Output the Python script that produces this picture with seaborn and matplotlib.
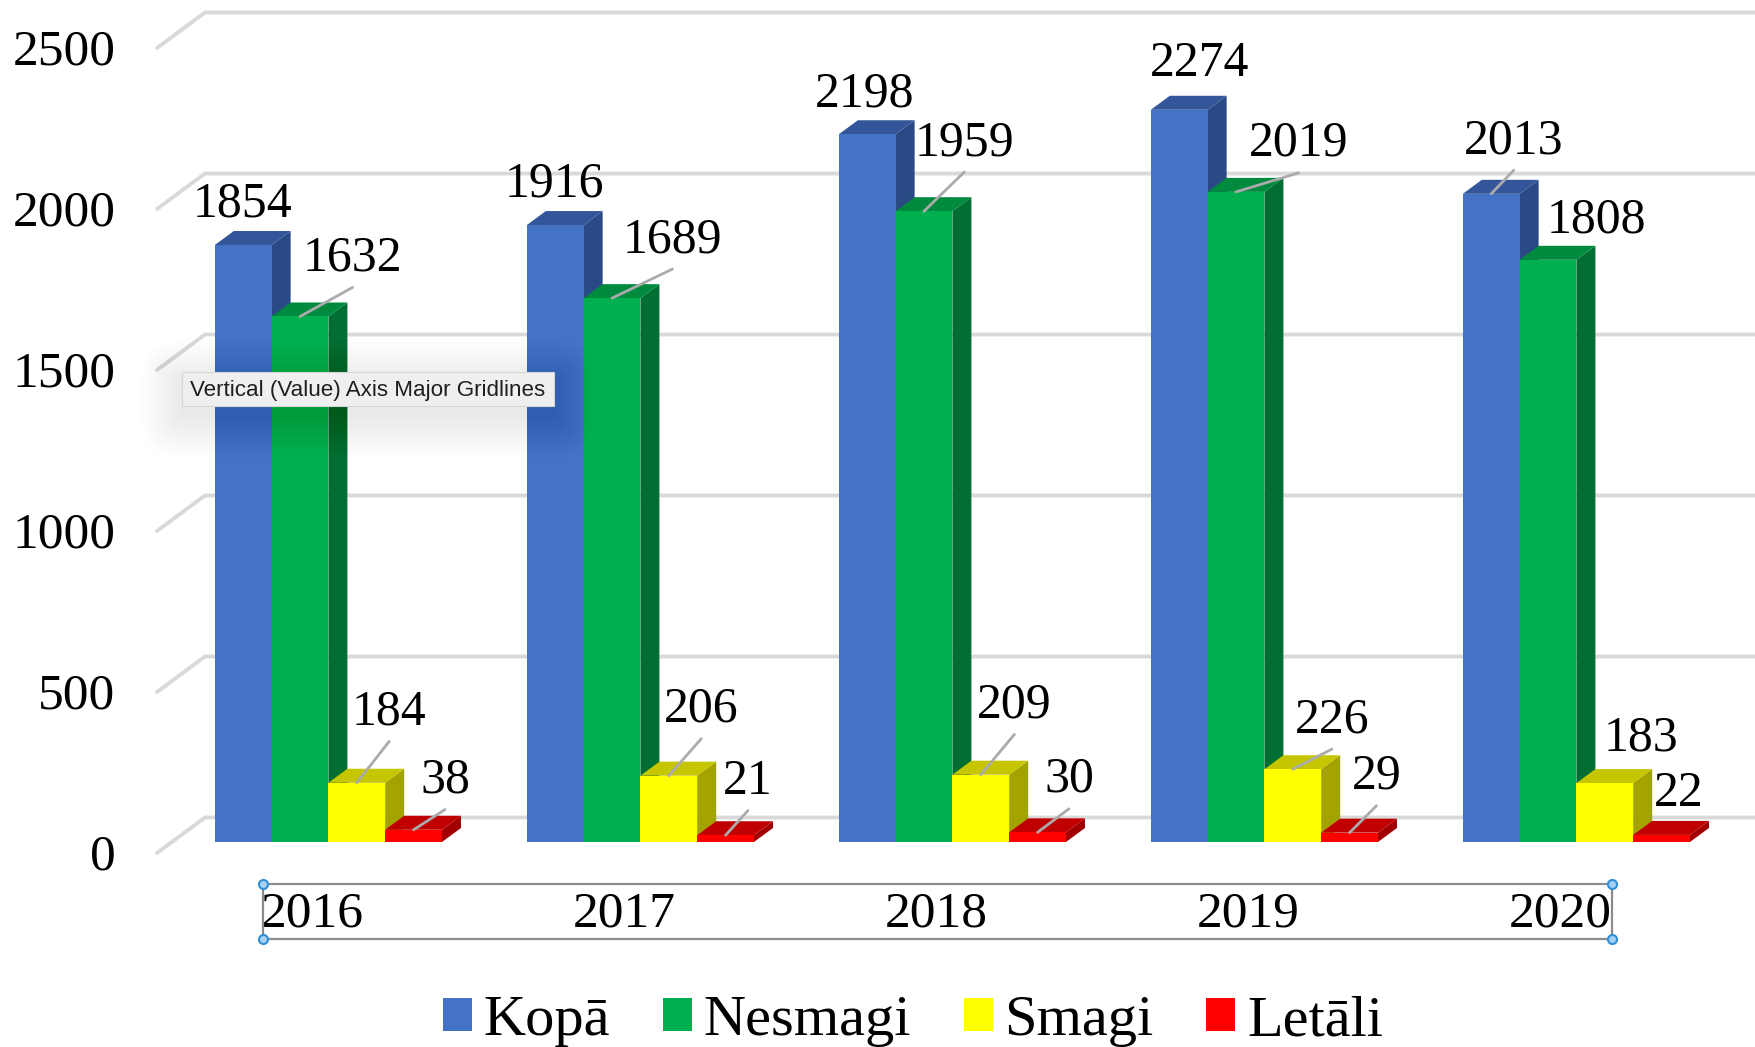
import pandas as pd
import numpy as np
import matplotlib.pyplot as plt
import seaborn as sns
from matplotlib.lines import Line2D
from matplotlib.patches import FancyBboxPatch, Polygon, Rectangle
from matplotlib.transforms import IdentityTransform, ScaledTranslation

years = ["2016", "2017", "2018", "2019", "2020"]
kopa = [1854, 1916, 2198, 2274, 2013]
nesmagi = [1632, 1689, 1959, 2019, 1808]
smagi = [184, 206, 209, 226, 183]
letali = [38, 21, 30, 29, 22]
series = ["Kopā", "Nesmagi", "Smagi", "Letāli"]
y_ticks = [0, 500, 1000, 1500, 2000, 2500]

W, H = 1756, 1047
BASE_Y = 842
STEP = 312.0
PX_PER_UNIT = 0.322
CENTER0 = 328.4
LEFT, RIGHT = 157, 1756

colors = ["#4472C4", "#00B050", "#FFFF00", "#FF0000"]
top_colors = ["#33569A", "#008A3E", "#C6C600", "#C00000"]
side_colors = ["#2A4A85", "#006F31", "#A3A300", "#A00000"]

# label offsets from the top of each bar, px in the shrunk picture (dx, dy, has leader)
label_pos = [
    [(-1, 36, 0), (-1, 36, 0), (-2, 36, 0), (18, 41, 0), (20, 47, 1)],
    [(47, 52, 1), (54, 52, 1), (36, 61, 1), (56, 43, 1), (43, 35, 0)],
    [(29, 63, 1), (29, 59, 1), (30, 62, 1), (35, 44, 1), (32, 40, 0)],
    [(28, 44, 1), (20, 48, 1), (28, 47, 1), (24, 50, 1), (15, 37, 0)],
]
SCALE = 1.12

sns.set_theme(style="white")
plt.rcParams["font.family"] = ["Liberation Serif", "DejaVu Serif"]
plt.rcParams["text.color"] = "black"

df = pd.DataFrame({"year": years, series[0]: kopa, series[1]: nesmagi,
                   series[2]: smagi, series[3]: letali})
df = df.melt(id_vars="year", var_name="veids", value_name="skaits")


def fx(px):
    return px / W


def fy(py):
    return 1 - py / H


fig = plt.figure(figsize=(W / 100, H / 100), dpi=100, facecolor="white")
ax = fig.add_axes([fx(LEFT), fy(BASE_Y), fx(RIGHT - LEFT), 1 - fy(BASE_Y)])
ax.patch.set_alpha(0)

sns.barplot(data=df, x="year", y="skaits", hue="veids", hue_order=series,
            palette=colors, saturation=1, width=0.728, linewidth=0, ax=ax)

ax.set_xlim((LEFT - CENTER0) / STEP, (RIGHT - CENTER0) / STEP)
ax.set_ylim(0, BASE_Y / PX_PER_UNIT)
depth_x = 19 / STEP
depth_y = 14 / PX_PER_UNIT
wall_x = 48 / STEP
wall_y = 24.5 / PX_PER_UNIT
front_drop = 11 / PX_PER_UNIT
x_min = ax.get_xlim()[0]
x_max = ax.get_xlim()[1]

# back wall gridlines
for v in y_ticks:
    ax.plot([x_min, x_min + wall_x, x_max], [v - front_drop, v + wall_y, v + wall_y],
            color="#D9D9D9", lw=2.8, clip_on=False, zorder=1, solid_joinstyle="miter")

# 3d look on the bars, later series sit on top of the earlier ones
for i, bars in enumerate(ax.containers):
    for j, bar in enumerate(bars):
        x0 = bar.get_x()
        x1 = x0 + bar.get_width()
        top = bar.get_height()
        z = 3 + i * 2
        bar.set_zorder(z + 1)
        ax.add_patch(Polygon([(x1, 0), (x1 + depth_x, depth_y), (x1 + depth_x, top + depth_y), (x1, top)],
                             facecolor=side_colors[i], edgecolor="none", zorder=z))
        ax.add_patch(Polygon([(x0, top), (x0 + depth_x, top + depth_y), (x1 + depth_x, top + depth_y), (x1, top)],
                             facecolor=top_colors[i], edgecolor="none", zorder=z))
        dx, dy, leader = label_pos[i][j]
        xc = x0 + bar.get_width() / 2
        if leader:
            ax.annotate("", xy=(xc, top), xytext=(dx * SCALE, (dy - 26) * SCALE),
                        textcoords="offset pixels", annotation_clip=False, zorder=20,
                        arrowprops=dict(arrowstyle="-", color="#ABABAB", lw=2, shrinkA=0, shrinkB=0))
        ax.annotate(str(int(round(top))), xy=(xc, top), xytext=(dx * SCALE, dy * SCALE),
                    textcoords="offset pixels", ha="center", va="center", fontsize=35.8,
                    color="black", annotation_clip=False, zorder=21)

sns.despine(ax=ax, left=True, bottom=True)
ax.set_xlabel("")
ax.set_ylabel("")
ax.set_yticks(y_ticks)
ax.tick_params(axis="y", length=0, pad=30, labelsize=37, colors="black")
ax.tick_params(axis="x", length=0, pad=35, labelsize=37, colors="black")
for lab in ax.get_yticklabels():
    lab.set_transform(lab.get_transform() + ScaledTranslation(0, -10 / 100, fig.dpi_scale_trans))
for lab in ax.get_xticklabels():
    lab.set_transform(lab.get_transform() + ScaledTranslation(-16 / 100, 0, fig.dpi_scale_trans))

sns.move_legend(ax, "center", bbox_to_anchor=(fx(913), fy(1021)), bbox_transform=fig.transFigure,
                ncol=4, title=None, frameon=False, fontsize=42, handlelength=0.5, handleheight=0.5,
                handletextpad=0.2, columnspacing=0.9, borderpad=0, borderaxespad=0)

# selection frame round the category axis
x_a, x_b, y_a, y_b = 263, 1612, 884, 939
fig.add_artist(Rectangle((fx(x_a), fy(y_b)), fx(x_b - x_a), fy(y_a) - fy(y_b), transform=fig.transFigure,
                         facecolor="none", edgecolor="#8C8C8C", lw=1.6, zorder=5))
for hx in (x_a, x_b):
    for hy in (y_a, y_b):
        fig.add_artist(Line2D([fx(hx)], [fy(hy)], transform=fig.transFigure, marker="o", markersize=6.5,
                              markerfacecolor="#A5D2F2", markeredgecolor="#2F8FD8", markeredgewidth=1.5,
                              linestyle="none", zorder=6))

# tooltip left over in the screenshot, its soft shadow first
t_x0, t_x1, t_y0, t_y1 = 182, 554, 372, 406
for grow in range(2, 44, 2):
    fig.add_artist(FancyBboxPatch((t_x0 - grow, H - t_y1 - grow - 10), t_x1 - t_x0 + 2 * grow, t_y1 - t_y0 + 2 * grow,
                                  boxstyle=f"round,pad=0,rounding_size={grow}", transform=IdentityTransform(),
                                  facecolor="black", edgecolor="none", alpha=0.004, zorder=7))
fig.add_artist(Rectangle((fx(t_x0), fy(t_y1)), fx(t_x1 - t_x0), fy(t_y0) - fy(t_y1), transform=fig.transFigure,
                         facecolor="#EFEFEF", edgecolor="#D6D6D6", lw=0.8, zorder=8))
fig.text(fx((t_x0 + t_x1) / 2), fy((t_y0 + t_y1) / 2 + 1.5), "Vertical (Value) Axis Major Gridlines",
         ha="center", va="center", fontsize=16.1, color="#1E1E1E", family="Liberation Sans", zorder=9)

fig.savefig("out.png", dpi=100)
